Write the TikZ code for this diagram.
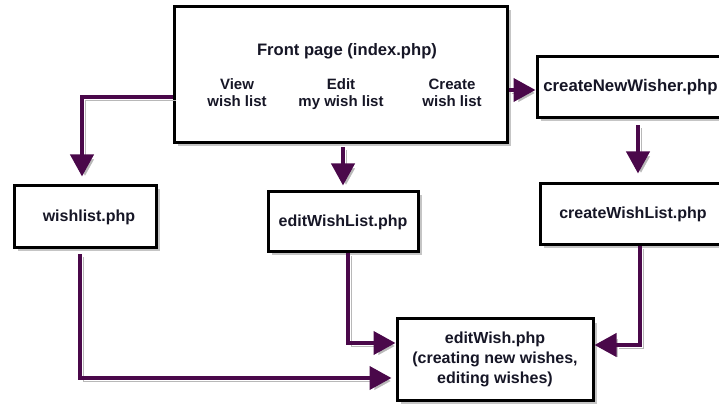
\documentclass[tikz,border=0pt]{standalone}
\usepackage{fontspec}
\setmainfont{Liberation Sans}
\usetikzlibrary{arrows.meta,shadows,calc}
\definecolor{arr}{RGB}{74,8,74}
\definecolor{txt}{RGB}{22,22,38}
\begin{document}
\begin{tikzpicture}[x=1pt,y=1pt,
  box/.style={draw=black, line width=3pt, fill=white, inner sep=0pt,
    text=txt, font=\bfseries\fontsize{16}{20}\selectfont, align=center,
    drop shadow={shadow xshift=3.5pt, shadow yshift=-3.5pt, fill=black!45, opacity=0.5}},
  lbl/.style={text=txt, inner sep=0pt, anchor=base, font=\bfseries\fontsize{15}{17}\selectfont},
  ttl/.style={text=txt, inner sep=0pt, anchor=base, font=\bfseries\fontsize{16.6}{20}\selectfont},
  link/.style={draw=arr, line width=4pt, -{Triangle[width=23pt,length=22pt]},
    preaction={draw=black!28, transform canvas={xshift=3pt,yshift=-3pt}}}
]
\useasboundingbox (0,0) rectangle (719,404);

% boxes
\node[box, minimum width=187pt, minimum height=61pt, font=\bfseries\fontsize{16.8}{20}\selectfont] (cnw) at (630.5,316.5) {createNewWisher.php};
\node[box, minimum width=333pt, minimum height=136pt] (front) at (340.5,329) {};
\node[box, minimum width=186pt, minimum height=61pt] (cwl) at (633,189.5) {createWishList.php};
\node[box, minimum width=142pt, minimum height=62pt] (wl) at (85,187) {\hspace*{8pt}wishlist.php};
\node[box, minimum width=150pt, minimum height=60pt] (edl) at (343,182) {editWishList.php};
\node[box, minimum width=196pt, minimum height=81pt] (ew) at (495,44.5) {editWish.php\\(creating new wishes,\\editing wishes)};

% texts of the front page
\node[ttl] (title) at (347,348) {Front page (index.php)};
\node[lbl] (v1) at (237,314) {View};
\node[lbl] (v2) at (237,297) {wish list};
\node[lbl] (e1) at (341,314) {Edit};
\node[lbl] (e2) at (341,297) {my wish list};
\node[lbl] (c1) at (452,314) {Create};
\node[lbl] (c2) at (452,297) {wish list};

% connectors
\draw[link, shorten >=8pt] ([yshift=-22pt]front.west) -| ([xshift=-3pt]wl.north);
\draw[link, shorten <=3pt, shorten >=5pt] ([xshift=2.5pt]front.south) -- ([xshift=2.5pt]front.south |- edl.north);
\draw[link, shorten >=0pt] ([yshift=-15pt]front.east) -- ([yshift=-15pt]front.east -| cnw.west);
\draw[link, shorten <=6pt, shorten >=9pt] ([xshift=7.5pt]cnw.south) -- ([xshift=7.5pt]cnw.south |- cwl.north);
\draw[link, shorten <=5pt, shorten >=4pt] ([xshift=-5pt]wl.south) |- ([yshift=-18.5pt]ew.west);
\draw[link] ([xshift=5pt]edl.south) |- ([yshift=16.5pt]ew.west);
\draw[link] ([xshift=7pt]cwl.south) |- ([yshift=14.5pt]ew.east);
\end{tikzpicture}
\end{document}
